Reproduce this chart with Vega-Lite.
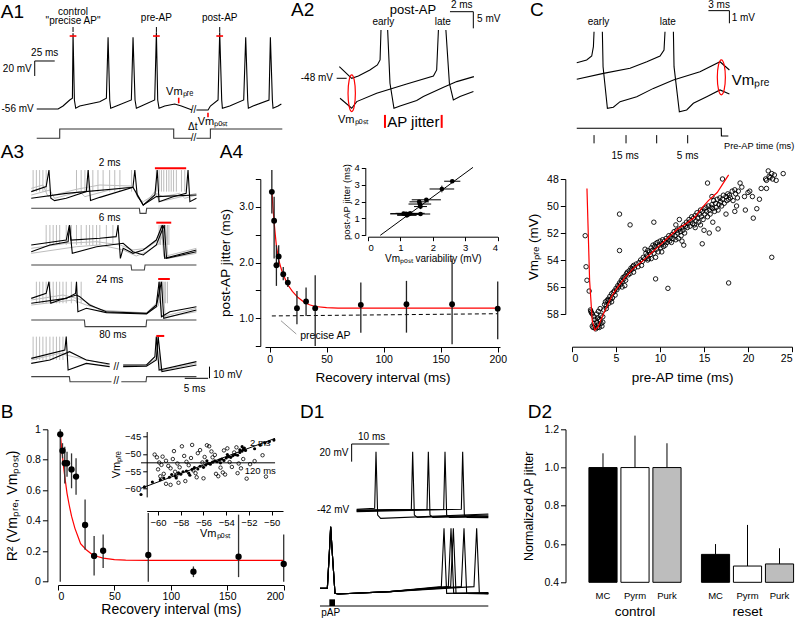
{
"$schema":"https://vega.github.io/schema/vega-lite/v6.json",
"background":"white",
"padding":0,
"config":{"view":{"stroke":null},"font":"Liberation Sans","axis":{"grid":false,"labelOverlap":false,"domainColor":"black","tickColor":"black","labelColor":"black","titleColor":"black","labelFont":"Liberation Sans","titleFont":"Liberation Sans","titleFontWeight":"normal","tickSize":5,"labelFontSize":10.5,"titleFontSize":13.5},"text":{"font":"Liberation Sans","color":"black"}},
"spacing":179,
"bounds":"flush",
"vconcat":[
{"hconcat":[
{"width":231.7,"height":95.7,
"encoding":{"x":{"field":"t","type":"quantitative","scale":{"domain":[26.6,316.25],"nice":false,"zero":false},"axis":null},"y":{"field":"v","type":"quantitative","scale":{"domain":[-38.27,89.33],"nice":false,"zero":false},"axis":null}},
"layer":[
{"data":{"values":[{"s":"a","t":0,"v":-95.1},{"s":"a","t":28.74,"v":-95.1},{"s":"a","t":28.76,"v":-82.7},{"s":"a","t":171.24,"v":-82.7},{"s":"a","t":171.26,"v":-95.1},{"s":"a","t":193.5,"v":-95.1},{"s":"b","t":199.6,"v":-95.1},{"s":"b","t":217.09,"v":-95.1},{"s":"b","t":217.11,"v":-82.7},{"s":"b","t":307,"v":-82.7}]},"mark":{"type":"line","color":"#333","strokeWidth":1.1},"encoding":{"detail":{"field":"s"}}},
{"data":{"values":[{"s":"a","t":0,"v":-56},{"s":"a","t":26.7,"v":-56},{"s":"a","t":32.9,"v":-52},{"s":"a","t":41.25,"v":-44},{"s":"a","t":44.6,"v":-41.7},{"s":"a","t":45.4,"v":45},{"s":"a","t":47.1,"v":-44},{"s":"a","t":48.75,"v":-55},{"s":"a","t":53.75,"v":-52},{"s":"a","t":78.75,"v":-46.3},{"s":"a","t":87.1,"v":-41.7},{"s":"a","t":89.2,"v":39.6},{"s":"a","t":91.25,"v":-44},{"s":"a","t":92.5,"v":-55},{"s":"a","t":99.6,"v":-52},{"s":"a","t":118.3,"v":-44},{"s":"a","t":120.4,"v":39.6},{"s":"a","t":122.9,"v":-44},{"s":"a","t":124.6,"v":-55},{"s":"a","t":130.8,"v":-52},{"s":"a","t":147.5,"v":-44},{"s":"a","t":149.6,"v":46.3},{"s":"a","t":151.25,"v":-44},{"s":"a","t":152.9,"v":-55},{"s":"a","t":160,"v":-52},{"s":"a","t":172.5,"v":-49.3},{"s":"a","t":180.8,"v":-52},{"s":"a","t":194.2,"v":-57.3},
{"s":"b","t":199.6,"v":-57.3},{"s":"b","t":214.2,"v":-57.3},{"s":"b","t":217.1,"v":-52},{"s":"b","t":226.7,"v":-44},{"s":"b","t":228.75,"v":46.3},{"s":"b","t":231.25,"v":-44},{"s":"b","t":232.1,"v":-55},{"s":"b","t":241.25,"v":-52},{"s":"b","t":258.75,"v":-44},{"s":"b","t":261.25,"v":39.6},{"s":"b","t":263.75,"v":-44},{"s":"b","t":264.6,"v":-55},{"s":"b","t":270.4,"v":-52},{"s":"b","t":290.4,"v":-44},{"s":"b","t":292.1,"v":39.6},{"s":"b","t":294.6,"v":-44},{"s":"b","t":295.4,"v":-55},{"s":"b","t":301.7,"v":-52},{"s":"b","t":305.8,"v":-49.3}]},"mark":{"type":"line","color":"black","strokeWidth":1.1},"encoding":{"detail":{"field":"s"}}},
{"data":{"values":[{"t":45.4,"v":53.3,"t2":45.4,"v2":46.7},{"t":149.6,"v":53.3,"t2":149.6,"v2":46.7},{"t":228.75,"v":53.3,"t2":228.75,"v2":46.7},{"t":-2.5,"v":8,"t2":22.5,"v2":8},{"t":-2.5,"v":8,"t2":-2.5,"v2":-12}]},"mark":{"type":"rule","color":"black","strokeWidth":1},"encoding":{"x2":{"field":"t2"},"y2":{"field":"v2"}}},
{"data":{"values":[{"t":41.2,"v":41.3,"t2":49.6,"v2":41.3},{"t":145.4,"v":41.3,"t2":153.8,"v2":41.3},{"t":224.55,"v":41.3,"t2":232.95,"v2":41.3},{"t":177.5,"v":-40.9,"t2":177.5,"v2":-48.4},{"t":214.1,"v":-60.9,"t2":214.1,"v2":-67.1}]},"mark":{"type":"rule","color":"red","strokeWidth":1.6},"encoding":{"x2":{"field":"t2"},"y2":{"field":"v2"}}},
{"data":{"values":[{"t":45.4,"v":73.8,"label":"control"},{"t":45.4,"v":60.8,"label":"\"precise AP\""},{"t":149.6,"v":64.9,"label":"pre-AP"},{"t":228.75,"v":64.9,"label":"post-AP"},{"t":10,"v":18.3,"label":"25 ms"},{"t":195,"v":-79.5,"label":"Δt"},{"t":196,"v":-57.3,"label":"//"},{"t":196,"v":-95.1,"label":"//"}]},"mark":{"type":"text","fontSize":10,"align":"center","baseline":"middle"},"encoding":{"text":{"field":"label"}}},
{"data":{"values":[{"t":178.75,"v":-33,"label":"Vmₚᵣₑ"},{"t":220.4,"v":-73,"label":"Vmₚₒₛₜ"}]},"mark":{"type":"text","fontSize":11,"align":"center","baseline":"middle"},"encoding":{"text":{"field":"label"}}},
{"data":{"values":[{"t":-3.75,"v":-56,"label":"-56 mV"},{"t":-6.25,"v":-2.7,"label":"20 mV"}]},"mark":{"type":"text","fontSize":10,"align":"right","baseline":"middle"},"encoding":{"text":{"field":"label"}}},
{"data":{"values":[{"t":-45,"v":73.3,"label":"A1"}]},"mark":{"type":"text","fontSize":19,"align":"left","baseline":"middle"},"encoding":{"text":{"field":"label"}}}
]},
{"width":220,"height":95.7,
"encoding":{"x":{"field":"t","type":"quantitative","scale":{"domain":[0,18.85],"nice":false,"zero":false},"axis":null},"y":{"field":"v","type":"quantitative","scale":{"domain":[-53.23,-24.49],"nice":false,"zero":false},"axis":null}},
"layer":[
{"data":{"values":[{"s":"e1","t":3.37,"v":-44.5},{"s":"e1","t":4.43,"v":-48},{"s":"e1","t":5.0,"v":-47.3},{"s":"e1","t":5.99,"v":-45.5},{"s":"e1","t":6.63,"v":-44},{"s":"e1","t":6.86,"v":-42.5},{"s":"e1","t":6.94,"v":-33.5},
{"s":"e2","t":7.51,"v":-33.5},{"s":"e2","t":7.71,"v":-49.5},{"s":"e2","t":8.05,"v":-57},{"s":"e2","t":8.57,"v":-56.3},{"s":"e2","t":10.0,"v":-54.7},{"s":"e2","t":10.57,"v":-53.5},{"s":"e2","t":12.3,"v":-50.7},{"s":"e2","t":13.43,"v":-49},{"s":"e2","t":14.9,"v":-47.5},
{"s":"l1","t":3.43,"v":-54},{"s":"l1","t":4.43,"v":-57},{"s":"l1","t":4.86,"v":-55},{"s":"l1","t":6.57,"v":-52.5},{"s":"l1","t":9.14,"v":-49.7},{"s":"l1","t":11.43,"v":-47.3},{"s":"l1","t":11.71,"v":-45.5},{"s":"l1","t":11.86,"v":-33.5},
{"s":"l2","t":12.5,"v":-33.5},{"s":"l2","t":12.8,"v":-49.5},{"s":"l2","t":13.14,"v":-54.5},{"s":"l2","t":13.71,"v":-53.5},{"s":"l2","t":14.86,"v":-52}]},"mark":{"type":"line","color":"black","strokeWidth":1.1},"encoding":{"detail":{"field":"s"}}},
{"data":{"values":[{"t":3.14,"v":-48,"t2":4.0,"v2":-48},{"t":12.85,"v":-28,"t2":14.85,"v2":-28},{"t":14.85,"v":-28,"t2":14.85,"v2":-33}]},"mark":{"type":"rule","color":"black"},"encoding":{"x2":{"field":"t2"},"y2":{"field":"v2"}}},
{"data":{"values":[{"t":7.28,"v":-59,"t2":7.28,"v2":-62.9},{"t":12.14,"v":-59,"t2":12.14,"v2":-62.9}]},"mark":{"type":"rule","color":"red","strokeWidth":2},"encoding":{"x2":{"field":"t2"},"y2":{"field":"v2"}}},
{"data":{"values":[{"t":4.43,"v":-52.5}]},"mark":{"type":"point","shape":"M0,-1A0.2,1 0 1,1 0,1A0.2,1 0 1,1 0,-1Z","size":1344,"filled":false,"stroke":"red","strokeWidth":1.2,"opacity":1}},
{"data":{"values":[{"t":7.14,"v":-31,"label":"early"},{"t":12.23,"v":-31,"label":"late"},{"t":13.86,"v":-26.0,"label":"2 ms"}]},"mark":{"type":"text","fontSize":10,"align":"center","baseline":"middle"},"encoding":{"text":{"field":"label"}}},
{"data":{"values":[{"t":9.68,"v":-27.5,"label":"post-AP"}]},"mark":{"type":"text","fontSize":13,"align":"center","baseline":"middle"},"encoding":{"text":{"field":"label"}}},
{"data":{"values":[{"t":9.71,"v":-61.1,"label":"AP jitter"}]},"mark":{"type":"text","fontSize":15,"align":"center","baseline":"middle"},"encoding":{"text":{"field":"label"}}},
{"data":{"values":[{"t":4.57,"v":-60.5,"label":"Vmₚₒₛₜ"}]},"mark":{"type":"text","fontSize":11,"align":"center","baseline":"middle"},"encoding":{"text":{"field":"label"}}},
{"data":{"values":[{"t":2.83,"v":-48,"label":"-48 mV"}]},"mark":{"type":"text","fontSize":10,"align":"right","baseline":"middle"},"encoding":{"text":{"field":"label"}}},
{"data":{"values":[{"t":15.17,"v":-30.2,"label":"5 mV"}]},"mark":{"type":"text","fontSize":10,"align":"left","baseline":"middle"},"encoding":{"text":{"field":"label"}}},
{"data":{"values":[{"t":-0.77,"v":-27.5,"label":"A2"}]},"mark":{"type":"text","fontSize":19,"align":"left","baseline":"middle"},"encoding":{"text":{"field":"label"}}}
]},
{"width":260,"height":95.7,
"encoding":{"x":{"field":"t","type":"quantitative","scale":{"domain":[-27.39,9.76],"nice":false,"zero":false},"axis":null},"y":{"field":"v","type":"quantitative","scale":{"domain":[-1.23,5.96],"nice":false,"zero":false},"axis":null}},
"layer":[
{"data":{"values":[{"s":"e1","t":-20.71,"v":1.25},{"s":"e1","t":-19.29,"v":1.45},{"s":"e1","t":-18.57,"v":1.75},{"s":"e1","t":-18.33,"v":2.45},{"s":"e1","t":-18.24,"v":3.58},
{"s":"e2","t":-17.05,"v":3.58},{"s":"e2","t":-16.95,"v":0.95},{"s":"e2","t":-16.33,"v":-2.18},{"s":"e2","t":-15.48,"v":-2.1},{"s":"e2","t":-14.52,"v":-1.68},{"s":"e2","t":-12.14,"v":-1.31},{"s":"e2","t":-9.76,"v":-0.68},{"s":"e2","t":-6.9,"v":-0.05},{"s":"e2","t":-3.1,"v":0.57},{"s":"e2","t":-0.24,"v":1.32},{"s":"e2","t":1.1,"v":0.7},
{"s":"l1","t":-20.71,"v":0.0},{"s":"l1","t":-16.9,"v":0.45},{"s":"l1","t":-13.1,"v":0.83},{"s":"l1","t":-10.7,"v":1.32},{"s":"l1","t":-8.81,"v":1.75},{"s":"l1","t":-8.24,"v":2.2},{"s":"l1","t":-8.1,"v":3.58},
{"s":"l2","t":-6.9,"v":3.58},{"s":"l2","t":-6.81,"v":0.95},{"s":"l2","t":-6.05,"v":-2.44},{"s":"l2","t":-5.0,"v":-2.3},{"s":"l2","t":-4.05,"v":-1.8},{"s":"l2","t":-2.14,"v":-1.31},{"s":"l2","t":-0.24,"v":-0.8},{"s":"l2","t":1.1,"v":-1.1},
{"s":"ax","t":-20.71,"v":-3.68},{"s":"ax","t":-0.06,"v":-3.68},{"s":"ax","t":-0.04,"v":-4.26},{"s":"ax","t":0.95,"v":-4.26}]},"mark":{"type":"line","color":"black","strokeWidth":1.1},"encoding":{"detail":{"field":"s"}}},
{"data":{"values":[{"t":-18.24,"v":-4.19,"t2":-18.24,"v2":-4.81},{"t":-13.67,"v":-4.19,"t2":-13.67,"v2":-4.81},{"t":-9.29,"v":-4.19,"t2":-9.29,"v2":-4.81},{"t":-4.86,"v":-4.19,"t2":-4.86,"v2":-4.81},{"t":-1.9,"v":5.16,"t2":1.1,"v2":5.16},{"t":1.1,"v":5.16,"t2":1.1,"v2":4.21}]},"mark":{"type":"rule","color":"black"},"encoding":{"x2":{"field":"t2"},"y2":{"field":"v2"}}},
{"data":{"values":[{"t":-0.05,"v":0.15}]},"mark":{"type":"point","shape":"M0,-1A0.23,1 0 1,1 0,1A0.23,1 0 1,1 0,-1Z","size":1225,"filled":false,"stroke":"red","strokeWidth":1.2,"opacity":1}},
{"data":{"values":[{"t":-17.6,"v":4.33,"label":"early"},{"t":-7.7,"v":4.33,"label":"late"},{"t":-0.38,"v":5.57,"label":"3 ms"},{"t":-13.8,"v":-5.77,"label":"15 ms"},{"t":-4.86,"v":-5.77,"label":"5 ms"}]},"mark":{"type":"text","fontSize":10,"align":"center","baseline":"middle"},"encoding":{"text":{"field":"label"}}},
{"data":{"values":[{"t":1.43,"v":4.59,"label":"1 mV"}]},"mark":{"type":"text","fontSize":10,"align":"left","baseline":"middle"},"encoding":{"text":{"field":"label"}}},
{"data":{"values":[{"t":0.33,"v":-4.99,"label":"Pre-AP time (ms)"}]},"mark":{"type":"text","fontSize":9.2,"align":"left","baseline":"middle"},"encoding":{"text":{"field":"label"}}},
{"data":{"values":[{"t":1.43,"v":-0.05,"label":"Vmₚᵣₑ"}]},"mark":{"type":"text","fontSize":15,"align":"left","baseline":"middle"},"encoding":{"text":{"field":"label"}}},
{"data":{"values":[{"t":-27.4,"v":5.2,"label":"C"}]},"mark":{"type":"text","fontSize":19,"align":"left","baseline":"middle"},"encoding":{"text":{"field":"label"}}}
]}
],"spacing":10,"bounds":"flush"},
{"vconcat":[
{"hconcat":[
{"width":134.4,"height":167,
"encoding":{"x":{"field":"t","type":"quantitative","scale":{"domain":[5.636,34.436],"nice":false,"zero":false},"axis":null},"y":{"field":"v","type":"quantitative","scale":{"domain":[-113.71,29.43],"nice":false,"zero":false},"axis":null}},
"layer":[
{"data":{"values":[
{"t":0.3,"v":37.1,"v2":18.6},{"t":1.0,"v":37.1,"v2":18.6},{"t":1.7,"v":37.1,"v2":18.6},{"t":2.4,"v":37.1,"v2":18.6},{"t":3.1,"v":37.1,"v2":18.6},{"t":9.6,"v":37.1,"v2":18.6},{"t":10.6,"v":37.1,"v2":18.6},{"t":11.4,"v":37.1,"v2":18.6},{"t":12.1,"v":37.1,"v2":18.6},{"t":13.1,"v":37.1,"v2":18.6},{"t":14.2,"v":37.1,"v2":18.6},{"t":15.3,"v":37.1,"v2":18.6},{"t":16.7,"v":37.1,"v2":18.6},{"t":17.8,"v":37.1,"v2":18.6},{"t":18.9,"v":37.1,"v2":18.6},{"t":21.4,"v":37.1,"v2":18.6},{"t":26.7,"v":37.1,"v2":18.6},{"t":27.3,"v":37.1,"v2":18.6},{"t":27.8,"v":37.1,"v2":18.6},{"t":28.3,"v":37.1,"v2":18.6},{"t":28.9,"v":37.1,"v2":18.6},{"t":29.4,"v":37.1,"v2":18.6},{"t":29.9,"v":37.1,"v2":18.6},{"t":30.4,"v":37.1,"v2":18.6},{"t":31.0,"v":37.1,"v2":18.6},{"t":32.1,"v":37.1,"v2":18.6},{"t":32.8,"v":37.1,"v2":18.6},
{"t":3.1,"v":-10,"v2":-27.1},{"t":3.9,"v":-10,"v2":-27.1},{"t":4.6,"v":-10,"v2":-27.1},{"t":5.3,"v":-10,"v2":-27.1},{"t":6.0,"v":-10,"v2":-27.1},{"t":7.4,"v":-10,"v2":-27.1},{"t":8.5,"v":-10,"v2":-27.1},{"t":9.6,"v":-10,"v2":-27.1},{"t":10.6,"v":-10,"v2":-27.1},{"t":11.7,"v":-10,"v2":-27.1},{"t":12.4,"v":-10,"v2":-27.1},{"t":13.1,"v":-10,"v2":-27.1},{"t":13.9,"v":-10,"v2":-27.1},{"t":14.6,"v":-10,"v2":-27.1},{"t":16.0,"v":-10,"v2":-27.1},{"t":17.4,"v":-10,"v2":-27.1},{"t":27.3,"v":-10,"v2":-27.1},{"t":27.6,"v":-10,"v2":-27.1},{"t":28.0,"v":-10,"v2":-27.1},{"t":28.4,"v":-10,"v2":-27.1},{"t":28.7,"v":-10,"v2":-27.1},{"t":29.1,"v":-10,"v2":-27.1},{"t":29.4,"v":-10,"v2":-27.1},
{"t":1.0,"v":-58.6,"v2":-77.1},{"t":1.7,"v":-58.6,"v2":-77.1},{"t":2.4,"v":-58.6,"v2":-77.1},{"t":3.1,"v":-58.6,"v2":-77.1},{"t":3.9,"v":-58.6,"v2":-77.1},{"t":4.6,"v":-58.6,"v2":-77.1},{"t":5.3,"v":-58.6,"v2":-77.1},{"t":6.0,"v":-58.6,"v2":-77.1},{"t":6.7,"v":-58.6,"v2":-77.1},{"t":7.4,"v":-58.6,"v2":-77.1},{"t":8.5,"v":-58.6,"v2":-77.1},{"t":9.6,"v":-58.6,"v2":-77.1},{"t":10.6,"v":-58.6,"v2":-77.1},{"t":27.3,"v":-58.6,"v2":-77.1},{"t":27.6,"v":-58.6,"v2":-77.1},{"t":28.0,"v":-58.6,"v2":-77.1},{"t":28.4,"v":-58.6,"v2":-77.1},{"t":28.7,"v":-58.6,"v2":-77.1},{"t":29.1,"v":-58.6,"v2":-77.1},
{"t":0.3,"v":-105.7,"v2":-125.7},{"t":1.0,"v":-105.7,"v2":-125.7},{"t":1.7,"v":-105.7,"v2":-125.7},{"t":2.4,"v":-105.7,"v2":-125.7},{"t":3.1,"v":-105.7,"v2":-125.7},{"t":3.9,"v":-105.7,"v2":-125.7},{"t":4.6,"v":-105.7,"v2":-125.7},{"t":5.3,"v":-105.7,"v2":-125.7},{"t":6.0,"v":-105.7,"v2":-125.7},{"t":6.7,"v":-105.7,"v2":-125.7}]},"mark":{"type":"rule","color":"#bdbdbd","strokeWidth":1},"encoding":{"y2":{"field":"v2"}}},
{"data":{"values":[
{"s":"1a","t":-0.1,"v":15.7},{"s":"1a","t":3.9,"v":20},{"s":"1a","t":4.9,"v":12.9},{"s":"1a","t":10.3,"v":18.6},{"s":"1a","t":11.4,"v":14.3},{"s":"1a","t":16.7,"v":20},{"s":"1a","t":21.7,"v":22.9},{"s":"1a","t":22.8,"v":12.9},{"s":"1a","t":23.9,"v":10},{"s":"1a","t":26.7,"v":17.1},{"s":"1a","t":28.1,"v":14.3},{"s":"1a","t":31.7,"v":17.1},{"s":"1a","t":32.8,"v":12.9},{"s":"1a","t":35.3,"v":15.7},
{"s":"1b","t":-0.1,"v":21.4},{"s":"1b","t":2.4,"v":24.3},{"s":"1b","t":3.5,"v":14.3},{"s":"1b","t":9.6,"v":20.6},{"s":"1b","t":14.6,"v":24.3},{"s":"1b","t":21.4,"v":23.4},{"s":"1b","t":22.8,"v":15.7},{"s":"1b","t":23.9,"v":7.1},{"s":"1b","t":26.4,"v":18.6},{"s":"1b","t":27.4,"v":10},{"s":"1b","t":35.3,"v":17.1},
{"s":"2a","t":-0.1,"v":-30},{"s":"2a","t":7.4,"v":-25.7},{"s":"2a","t":13.9,"v":-24.3},{"s":"2a","t":18.9,"v":-27.1},{"s":"2a","t":21.7,"v":-31.4},{"s":"2a","t":24.6,"v":-30},{"s":"2a","t":27.1,"v":-22.9},{"s":"2a","t":27.8,"v":-10},{"s":"2a","t":28.3,"v":-37.1},{"s":"2a","t":35.3,"v":-30},
{"s":"2b","t":-0.1,"v":-34.3},{"s":"2b","t":9.6,"v":-28.6},{"s":"2b","t":14.6,"v":-27.1},{"s":"2b","t":19.6,"v":-31.4},{"s":"2b","t":22.4,"v":-36.6},{"s":"2b","t":24.6,"v":-32.9},{"s":"2b","t":27.4,"v":-25.7},{"s":"2b","t":28.7,"v":-10},{"s":"2b","t":29.2,"v":-38.6},{"s":"2b","t":35.3,"v":-34.3},
{"s":"3a","t":-0.1,"v":-74.3},{"s":"3a","t":6.7,"v":-70},{"s":"3a","t":11.0,"v":-74.3},{"s":"3a","t":14.6,"v":-82.9},{"s":"3a","t":24.6,"v":-85.4},{"s":"3a","t":26.7,"v":-77.1},{"s":"3a","t":27.4,"v":-58.6},{"s":"3a","t":27.9,"v":-88.6},{"s":"3a","t":35.3,"v":-81.4},
{"s":"3b","t":-0.1,"v":-78.6},{"s":"3b","t":8.9,"v":-74.3},{"s":"3b","t":11.7,"v":-78.6},{"s":"3b","t":16.7,"v":-84.6},{"s":"3b","t":24.6,"v":-86},{"s":"3b","t":27.1,"v":-79.4},{"s":"3b","t":28.1,"v":-58.6},{"s":"3b","t":28.6,"v":-89.1},{"s":"3b","t":35.3,"v":-84.3},
{"s":"4a","t":-0.1,"v":-125.7},{"s":"4a","t":6.0,"v":-120},{"s":"4a","t":8.9,"v":-122.9},{"s":"4a","t":16.7,"v":-130},
{"s":"4b","t":19.6,"v":-130.6},{"s":"4b","t":24.6,"v":-130.3},{"s":"4b","t":26.7,"v":-124.3},{"s":"4b","t":27.1,"v":-105.7},{"s":"4b","t":27.6,"v":-134.9},{"s":"4b","t":35.3,"v":-128.6}]},"mark":{"type":"line","color":"#bdbdbd","strokeWidth":1},"encoding":{"detail":{"field":"s"}}},
{"data":{"values":[
{"s":"1a","t":-0.1,"v":4.3},{"s":"1a","t":23.07,"v":4.3},{"s":"1a","t":23.21,"v":0},{"s":"1a","t":24.5,"v":0},{"s":"1a","t":24.64,"v":4.3},{"s":"1a","t":35.3,"v":4.3},
{"s":"2a","t":-0.1,"v":-44.3},{"s":"2a","t":21.29,"v":-44.3},{"s":"2a","t":21.43,"v":-48.6},{"s":"2a","t":24.14,"v":-48.6},{"s":"2a","t":24.29,"v":-44.3},{"s":"2a","t":35.3,"v":-44.3},
{"s":"3a","t":-0.1,"v":-91.4},{"s":"3a","t":11.29,"v":-91.4},{"s":"3a","t":11.43,"v":-97.1},{"s":"3a","t":24.5,"v":-97.1},{"s":"3a","t":24.64,"v":-91.4},{"s":"3a","t":35.3,"v":-91.4},
{"s":"4a","t":-0.1,"v":-140},{"s":"4a","t":8.07,"v":-140},{"s":"4a","t":8.21,"v":-144.3},{"s":"4a","t":17.1,"v":-144.3},
{"s":"4b","t":19.2,"v":-144.3},{"s":"4b","t":24.5,"v":-144.3},{"s":"4b","t":24.64,"v":-140},{"s":"4b","t":35.3,"v":-140}]},"mark":{"type":"line","color":"#444","strokeWidth":1.1},"encoding":{"detail":{"field":"s"}}},
{"data":{"values":[
{"s":"1a","t":-0.1,"v":18.6},{"s":"1a","t":3.1,"v":22.9},{"s":"1a","t":3.7,"v":37.1},{"s":"1a","t":4.1,"v":12.9},{"s":"1a","t":4.9,"v":10.9},{"s":"1a","t":7.4,"v":12.9},{"s":"1a","t":11.7,"v":18.6},{"s":"1a","t":12.1,"v":37.1},{"s":"1a","t":12.6,"v":10.9},{"s":"1a","t":14.6,"v":13.7},{"s":"1a","t":21.7,"v":22.3},{"s":"1a","t":22.1,"v":37.1},{"s":"1a","t":22.6,"v":15.7},{"s":"1a","t":23.9,"v":7.1},{"s":"1a","t":26.4,"v":15.7},{"s":"1a","t":26.9,"v":37.1},{"s":"1a","t":27.3,"v":10},{"s":"1a","t":30.3,"v":14.3},{"s":"1a","t":33.1,"v":17.1},{"s":"1a","t":33.5,"v":37.1},{"s":"1a","t":33.9,"v":10},{"s":"1a","t":35.3,"v":12.9},
{"s":"1b","t":-0.1,"v":12.9},{"s":"1b","t":7.4,"v":17.1},{"s":"1b","t":21.7,"v":22.3},{"s":"1b","t":23.9,"v":7.1},{"s":"1b","t":26.7,"v":14.3},{"s":"1b","t":35.3,"v":15.7},
{"s":"2a","t":-0.1,"v":-27.1},{"s":"2a","t":7.4,"v":-22.9},{"s":"2a","t":8.1,"v":-10},{"s":"2a","t":8.4,"v":-22.9},{"s":"2a","t":14.6,"v":-21.4},{"s":"2a","t":18.1,"v":-20},{"s":"2a","t":18.5,"v":-10},{"s":"2a","t":19.0,"v":-38.6},{"s":"2a","t":19.6,"v":-30},{"s":"2a","t":21.7,"v":-34.3},{"s":"2a","t":23.9,"v":-31.4},{"s":"2a","t":26.7,"v":-22.9},{"s":"2a","t":28.0,"v":-10},{"s":"2a","t":28.5,"v":-38.6},{"s":"2a","t":35.3,"v":-31.4},
{"s":"2b","t":-0.1,"v":-32.9},{"s":"2b","t":3.9,"v":-27.1},{"s":"2b","t":7.8,"v":-24.3},{"s":"2b","t":8.1,"v":-10},{"s":"2b","t":8.7,"v":-34.3},{"s":"2b","t":13.9,"v":-28.6},{"s":"2b","t":19.6,"v":-25.7},{"s":"2b","t":21.7,"v":-32.9},{"s":"2b","t":23.9,"v":-35.7},{"s":"2b","t":26.7,"v":-27.1},{"s":"2b","t":28.4,"v":-10},{"s":"2b","t":28.9,"v":-38.6},{"s":"2b","t":35.3,"v":-32.9},
{"s":"3a","t":-0.1,"v":-72.9},{"s":"3a","t":3.1,"v":-68.6},{"s":"3a","t":3.7,"v":-58.6},{"s":"3a","t":4.1,"v":-77.1},{"s":"3a","t":6.0,"v":-74.3},{"s":"3a","t":9.6,"v":-70},{"s":"3a","t":10.3,"v":-71.4},{"s":"3a","t":12.4,"v":-78.6},{"s":"3a","t":16.0,"v":-84.3},{"s":"3a","t":24.6,"v":-85.7},{"s":"3a","t":26.7,"v":-78.6},{"s":"3a","t":27.3,"v":-58.6},{"s":"3a","t":27.8,"v":-88.6},{"s":"3a","t":29.6,"v":-84.3},{"s":"3a","t":35.3,"v":-80},
{"s":"3b","t":-0.1,"v":-77.1},{"s":"3b","t":7.4,"v":-72.9},{"s":"3b","t":9.4,"v":-68.6},{"s":"3b","t":9.6,"v":-58.6},{"s":"3b","t":9.9,"v":-84.3},{"s":"3b","t":11.7,"v":-81.4},{"s":"3b","t":16.0,"v":-85.1},{"s":"3b","t":24.6,"v":-86.3},{"s":"3b","t":26.7,"v":-80},{"s":"3b","t":27.8,"v":-58.6},{"s":"3b","t":28.3,"v":-90},{"s":"3b","t":35.3,"v":-82.9},
{"s":"4a","t":-0.1,"v":-124.3},{"s":"4a","t":7.1,"v":-117.1},{"s":"4a","t":7.4,"v":-105.7},{"s":"4a","t":7.8,"v":-134.3},{"s":"4a","t":11.7,"v":-128.6},{"s":"4a","t":16.7,"v":-131.4},
{"s":"4b","t":19.6,"v":-130},{"s":"4b","t":24.6,"v":-130},{"s":"4b","t":26.4,"v":-122.9},{"s":"4b","t":26.7,"v":-105.7},{"s":"4b","t":27.3,"v":-134.3},{"s":"4b","t":35.3,"v":-127.1},
{"s":"4c","t":-0.1,"v":-128.6},{"s":"4c","t":3.9,"v":-125.7},{"s":"4c","t":8.1,"v":-118.6},{"s":"4c","t":11.7,"v":-125.7},{"s":"4c","t":16.7,"v":-129.1},
{"s":"4d","t":19.6,"v":-131.4},{"s":"4d","t":24.6,"v":-131.1},{"s":"4d","t":26.7,"v":-125.7},{"s":"4d","t":27.1,"v":-105.7},{"s":"4d","t":27.9,"v":-135.7},{"s":"4d","t":35.3,"v":-130}]},"mark":{"type":"line","color":"black","strokeWidth":1.1},"encoding":{"detail":{"field":"s"}}},
{"data":{"values":[{"t":26.4,"v":38.6,"t2":33.1,"v2":38.6},{"t":26.7,"v":-8,"t2":29.9,"v2":-8},{"t":27.1,"v":-56.3,"t2":29.6,"v2":-56.3},{"t":26.7,"v":-105.1,"t2":28.4,"v2":-105.1}]},"mark":{"type":"rule","color":"red","strokeWidth":2},"encoding":{"x2":{"field":"t2"},"y2":{"field":"v2"}}},
{"data":{"values":[{"t":32.8,"v":-141.4,"t2":37.8,"v2":-141.4},{"t":38.1,"v":-131.4,"t2":38.1,"v2":-141.4}]},"mark":{"type":"rule","color":"black"},"encoding":{"x2":{"field":"t2"},"y2":{"field":"v2"}}},
{"data":{"values":[{"t":16.7,"v":43.4,"label":"2 ms"},{"t":16.7,"v":-4.3,"label":"6 ms"},{"t":16.7,"v":-57.1,"label":"24 ms"},{"t":17.4,"v":-104.3,"label":"80 ms"},{"t":34.9,"v":-150.9,"label":"5 ms"},{"t":18.1,"v":-132,"label":"//"},{"t":18.1,"v":-143.4,"label":"//"}]},"mark":{"type":"text","fontSize":10,"align":"center","baseline":"middle"},"encoding":{"text":{"field":"label"}}},
{"data":{"values":[{"t":38.9,"v":-138.6,"label":"10 mV"}]},"mark":{"type":"text","fontSize":10,"align":"left","baseline":"middle"},"encoding":{"text":{"field":"label"}}},
{"data":{"values":[{"t":-6.64,"v":52.9,"label":"A3"},{"t":40.3,"v":52.9,"label":"A4"},{"t":-6.64,"v":-170,"label":"B"}]},"mark":{"type":"text","fontSize":19,"align":"left","baseline":"middle"},"encoding":{"text":{"field":"label"}}}
]},
{"width":235,"height":167,
"resolve":{"scale":{"x":"independent","y":"independent"},"axis":{"x":"independent","y":"independent"}},
"layer":[
{"layer":[
{"data":{"values":[{"x":2,"y":3.3},{"x":3,"y":2.98},{"x":4,"y":2.72},{"x":5,"y":2.5},{"x":6,"y":2.3},{"x":8,"y":2.05},{"x":10,"y":1.9},{"x":12,"y":1.78},{"x":16,"y":1.6},{"x":20,"y":1.48},{"x":25,"y":1.37},{"x":30,"y":1.29},{"x":35,"y":1.24},{"x":40,"y":1.21},{"x":50,"y":1.19},{"x":60,"y":1.18},{"x":80,"y":1.18},{"x":120,"y":1.18},{"x":160,"y":1.18},{"x":200,"y":1.18}]},"mark":{"type":"line","color":"red","strokeWidth":1.2},
"encoding":{"x":{"field":"x","type":"quantitative","scale":{"domain":[-4,202],"nice":false,"zero":false},"axis":{"values":[0,50,100,150,200],"tickCount":20,"format":"d","offset":1,"title":"Recovery interval (ms)","titlePadding":6}},"y":{"field":"y","type":"quantitative","scale":{"domain":[0.5,3.5],"nice":false,"zero":false},"axis":{"values":[0.5,1,1.5,2,2.5,3,3.5],"tickCount":20,"labelExpr":"datum.value == 1 ? '1.0' : datum.value == 2 ? '2.0' : datum.value == 3 ? '3.0' : ''","offset":4.7,"title":"post-AP jitter (ms)","titlePadding":6}}}},
{"data":{"values":[{"x":2,"y":1.04},{"x":200,"y":1.08}]},"mark":{"type":"line","color":"black","strokeDash":[4,3],"strokeWidth":1},"encoding":{"x":{"field":"x","type":"quantitative"},"y":{"field":"y","type":"quantitative"}}},
{"data":{"values":[{"x":2,"y":3.27,"lo":2.88,"hi":3.66},{"x":4,"y":2.75,"lo":2.07,"hi":3.18},{"x":6,"y":1.95,"lo":1.58,"hi":2.31},{"x":8,"y":2.11,"lo":1.92,"hi":2.31},{"x":12,"y":1.79,"lo":1.68,"hi":1.92},{"x":16,"y":1.64,"lo":1.56,"hi":1.74},{"x":24,"y":1.18,"lo":0.89,"hi":1.49},{"x":32,"y":1.3,"lo":1.04,"hi":1.55},{"x":40,"y":1.18,"lo":0.5,"hi":1.77},{"x":80,"y":1.24,"lo":0.74,"hi":1.64},{"x":120,"y":1.25,"lo":0.74,"hi":1.67},{"x":160,"y":1.25,"lo":0.53,"hi":2.07},{"x":200,"y":1.17,"lo":0.62,"hi":1.66}]},"mark":{"type":"rule","color":"#222","strokeWidth":1.3},"encoding":{"x":{"field":"x","type":"quantitative"},"y":{"field":"lo","type":"quantitative"},"y2":{"field":"hi"}}},
{"data":{"values":[{"x":2,"y":3.27},{"x":4,"y":2.75},{"x":6,"y":1.95},{"x":8,"y":2.11},{"x":12,"y":1.79},{"x":16,"y":1.64},{"x":24,"y":1.18},{"x":32,"y":1.3},{"x":40,"y":1.18},{"x":80,"y":1.24},{"x":120,"y":1.25},{"x":160,"y":1.25},{"x":200,"y":1.17}]},"mark":{"type":"point","filled":true,"color":"black","size":34,"opacity":1},"encoding":{"x":{"field":"x","type":"quantitative"},"y":{"field":"y","type":"quantitative"}}},
{"data":{"values":[{"x":10,"y":0.954,"x2":23.4,"y2":0.716}]},"mark":{"type":"rule","color":"#999"},"encoding":{"x":{"field":"x","type":"quantitative"},"y":{"field":"y","type":"quantitative"},"x2":{"field":"x2"},"y2":{"field":"y2"}}},
{"data":{"values":[{"x":26.9,"y":0.68,"label":"precise AP"}]},"mark":{"type":"text","fontSize":10.5,"align":"left","baseline":"middle"},"encoding":{"x":{"field":"x","type":"quantitative"},"y":{"field":"y","type":"quantitative"},"text":{"field":"label"}}}
]},
{"layer":[
{"data":{"values":[{"x":0.38,"y":0},{"x":3.24,"y":4.02}]},"mark":{"type":"line","color":"black","strokeWidth":1},
"encoding":{"x":{"field":"x","type":"quantitative","title":"Vmₚₒₛₜ variability (mV)","scale":{"domain":[0,4],"range":[103,232.6],"nice":false,"zero":false},"axis":{"orient":"bottom","offset":-109.3,"values":[0,1,2,3,4],"tickCount":20,"format":"d","titleFontSize":10,"labelFontSize":9.5,"tickSize":4,"titlePadding":1}},"y":{"field":"y","type":"quantitative","title":"post-AP jitter (ms)","scale":{"domain":[0,4],"range":[56.3,-11.3],"nice":false,"zero":false},"axis":{"orient":"left","offset":-100.3,"values":[0,1,2,3,4],"tickCount":20,"format":"d","titleFontSize":9.5,"labelFontSize":9.5,"tickSize":4,"titlePadding":3}}}},
{"data":{"values":[{"x":2.6,"y":3.2,"xe":0.25,"ye":0.1},{"x":2.28,"y":2.74,"xe":0.38,"ye":0.2},{"x":1.8,"y":2.1,"xe":0.45,"ye":0.1},{"x":1.58,"y":1.98,"xe":0.3,"ye":0.1},{"x":1.6,"y":1.85,"xe":0.35,"ye":0.1},{"x":1.62,"y":1.7,"xe":0.2,"ye":0.15},{"x":1.62,"y":1.26,"xe":0.3,"ye":0.1},{"x":1.1,"y":1.28,"xe":0.4,"ye":0.05},{"x":1.18,"y":1.27,"xe":0.5,"ye":0.05},{"x":1.25,"y":1.24,"xe":0.35,"ye":0.1},{"x":1.3,"y":1.3,"xe":0.45,"ye":0.05},{"x":1.2,"y":1.18,"xe":0.3,"ye":0.1}]},
"layer":[
{"mark":{"type":"errorbar","color":"black","ticks":false},"encoding":{"x":{"field":"x","type":"quantitative","title":"Vmₚₒₛₜ variability (mV)"},"xError":{"field":"xe"},"y":{"field":"y","type":"quantitative","title":"post-AP jitter (ms)"}}},
{"mark":{"type":"errorbar","color":"black","ticks":false},"encoding":{"y":{"field":"y","type":"quantitative","title":"post-AP jitter (ms)"},"yError":{"field":"ye"},"x":{"field":"x","type":"quantitative","title":"Vmₚₒₛₜ variability (mV)"}}},
{"mark":{"type":"point","filled":true,"color":"black","size":22,"opacity":1},"encoding":{"x":{"field":"x","type":"quantitative","title":"Vmₚₒₛₜ variability (mV)"},"y":{"field":"y","type":"quantitative","title":"post-AP jitter (ms)"}}}
]}
]}
]},
{"width":220,"height":135,
"layer":[
{"data":{"values":[
{"x":1.5,"y":52.2},{"x":1.6,"y":54.5},{"x":1.7,"y":55.5},{"x":1.95,"y":56.3},{"x":2.1,"y":57.7},{"x":2.2,"y":57.9},{"x":2.15,"y":57.8},{"x":2.3,"y":58.0},
{"x":2.3,"y":58.9},{"x":2.4,"y":59.0},{"x":2.5,"y":58.7},{"x":2.6,"y":58.9},{"x":2.7,"y":59.1},{"x":2.8,"y":58.6},{"x":2.9,"y":58.3},{"x":3.0,"y":58.8},{"x":3.1,"y":59.0},{"x":3.2,"y":58.5},{"x":3.3,"y":58.1},{"x":3.4,"y":58.9},{"x":3.5,"y":58.6},{"x":2.5,"y":58.2},{"x":2.8,"y":58.0},{"x":3.0,"y":57.8},{"x":3.2,"y":57.6},{"x":3.6,"y":57.7},{"x":3.7,"y":57.3},{"x":3.5,"y":58.2},{"x":3.1,"y":58.4},{"x":2.6,"y":58.4},{"x":2.9,"y":59.0},{"x":3.3,"y":58.7},
{"x":3.8,"y":57.1},{"x":3.9,"y":57.4},{"x":4.0,"y":57.0},{"x":4.1,"y":56.9},{"x":4.2,"y":57.2},{"x":4.3,"y":56.7},{"x":4.4,"y":56.9},{"x":4.5,"y":56.5},{"x":4.6,"y":56.8},{"x":4.7,"y":56.4},{"x":4.8,"y":56.3},{"x":4.9,"y":56.6},{"x":5.0,"y":56.1},{"x":4.5,"y":57.1},{"x":4.2,"y":57.0},{"x":3.9,"y":57.6},
{"x":5.1,"y":56.2},{"x":5.2,"y":55.9},{"x":5.3,"y":56.0},{"x":5.4,"y":55.7},{"x":5.5,"y":55.8},{"x":5.6,"y":55.5},{"x":5.7,"y":55.6},{"x":5.8,"y":55.3},{"x":5.9,"y":55.4},{"x":6.0,"y":55.2},{"x":6.1,"y":55.5},{"x":6.2,"y":55.0},{"x":6.3,"y":54.9},{"x":6.4,"y":55.1},{"x":6.5,"y":54.8},{"x":6.6,"y":55.0},{"x":6.7,"y":54.6},{"x":6.8,"y":54.7},{"x":6.9,"y":54.5},{"x":7.0,"y":54.4},{"x":5.7,"y":56.0},{"x":6.0,"y":55.9},{"x":7.0,"y":54.9},
{"x":7.1,"y":54.6},{"x":7.3,"y":54.3},{"x":7.5,"y":54.5},{"x":7.6,"y":54.2},{"x":7.8,"y":54.0},{"x":8.0,"y":54.1},{"x":8.1,"y":53.8},{"x":8.3,"y":53.9},{"x":8.4,"y":53.5},{"x":8.5,"y":53.7},{"x":8.6,"y":53.3},{"x":8.7,"y":53.9},{"x":8.8,"y":53.4},{"x":8.9,"y":53.6},{"x":9.0,"y":53.1},{"x":7.9,"y":54.4},{"x":8.3,"y":53.2},{"x":8.6,"y":54.0},
{"x":9.1,"y":53.3},{"x":9.2,"y":52.9},{"x":9.3,"y":53.5},{"x":9.4,"y":53.0},{"x":9.5,"y":52.8},{"x":9.6,"y":53.2},{"x":9.7,"y":52.7},{"x":9.8,"y":53.4},{"x":9.9,"y":52.9},{"x":10.0,"y":52.6},{"x":10.1,"y":53.1},{"x":10.2,"y":52.8},{"x":10.3,"y":52.5},{"x":10.4,"y":53.0},{"x":10.5,"y":52.6},{"x":10.6,"y":52.9},{"x":10.7,"y":52.4},{"x":10.8,"y":52.7},{"x":10.9,"y":52.5},{"x":11.0,"y":52.2},{"x":9.5,"y":53.8},{"x":10.2,"y":53.4},{"x":9.0,"y":53.9},
{"x":11.1,"y":52.6},{"x":11.2,"y":52.3},{"x":11.3,"y":52.7},{"x":11.4,"y":52.1},{"x":11.5,"y":52.4},{"x":11.6,"y":51.9},{"x":11.7,"y":52.2},{"x":11.8,"y":52.5},{"x":11.9,"y":51.8},{"x":12.0,"y":52.0},{"x":12.1,"y":52.4},{"x":12.2,"y":51.7},{"x":12.3,"y":51.9},{"x":12.4,"y":52.2},{"x":12.5,"y":51.6},{"x":12.6,"y":51.8},{"x":12.7,"y":51.4},{"x":12.8,"y":52.0},{"x":12.9,"y":51.5},{"x":13.0,"y":51.2},{"x":12.2,"y":51.0},{"x":12.5,"y":52.6},{"x":11.8,"y":51.4},{"x":12.7,"y":52.9},
{"x":13.1,"y":51.6},{"x":13.2,"y":51.3},{"x":13.3,"y":51.0},{"x":13.4,"y":51.5},{"x":13.5,"y":51.1},{"x":13.6,"y":50.8},{"x":13.7,"y":51.3},{"x":13.8,"y":50.9},{"x":13.9,"y":51.4},{"x":14.0,"y":50.7},{"x":14.1,"y":51.1},{"x":14.2,"y":50.5},{"x":14.3,"y":50.9},{"x":14.4,"y":51.2},{"x":14.5,"y":50.6},{"x":14.6,"y":50.3},{"x":14.7,"y":50.8},{"x":14.8,"y":50.4},{"x":14.9,"y":51.0},{"x":15.0,"y":50.2},{"x":14.0,"y":51.6},{"x":14.6,"y":51.4},{"x":15.0,"y":51.8},{"x":14.8,"y":52.8},{"x":15.4,"y":48.3},
{"x":15.1,"y":50.6},{"x":15.2,"y":50.1},{"x":15.3,"y":50.4},{"x":15.4,"y":50.8},{"x":15.5,"y":50.0},{"x":15.6,"y":50.3},{"x":15.7,"y":50.6},{"x":15.8,"y":50.1},{"x":15.9,"y":49.9},{"x":16.0,"y":50.2},{"x":16.1,"y":49.6},{"x":16.2,"y":50.4},{"x":16.3,"y":49.8},{"x":16.4,"y":50.1},{"x":16.5,"y":49.5},{"x":16.6,"y":50.3},{"x":16.7,"y":49.9},{"x":16.8,"y":49.4},{"x":16.9,"y":49.7},{"x":17.0,"y":50.0},{"x":15.6,"y":52.0},{"x":16.6,"y":51.7},{"x":16.0,"y":51.2},{"x":15.9,"y":49.3},
{"x":17.1,"y":49.5},{"x":17.2,"y":49.2},{"x":17.3,"y":49.8},{"x":17.5,"y":49.3},{"x":17.6,"y":49.6},{"x":17.7,"y":49.1},{"x":17.8,"y":49.5},{"x":17.9,"y":49.2},{"x":18.0,"y":49.4},{"x":18.2,"y":48.9},{"x":18.3,"y":49.6},{"x":18.5,"y":48.8},{"x":18.6,"y":49.1},{"x":18.8,"y":49.4},{"x":18.9,"y":48.9},{"x":17.1,"y":48.0},{"x":18.5,"y":50.4},{"x":17.8,"y":55.7},{"x":17.5,"y":50.6},
{"x":19.3,"y":48.6},{"x":19.6,"y":49.3},{"x":19.7,"y":50.3},{"x":20.0,"y":49.0},{"x":20.2,"y":48.9},{"x":20.5,"y":49.3},{"x":20.6,"y":50.9},{"x":21.0,"y":50.2},{"x":21.3,"y":49.5},{"x":21.5,"y":48.7},{"x":22.0,"y":48.0},{"x":22.1,"y":48.1},{"x":22.3,"y":47.4},{"x":22.4,"y":47.8},{"x":22.5,"y":47.9},{"x":22.7,"y":47.6},{"x":22.8,"y":48.0},{"x":23.0,"y":47.7},{"x":23.2,"y":48.1},{"x":24.0,"y":47.6},{"x":22.1,"y":48.7},{"x":22.7,"y":53.8},{"x":19.1,"y":48.3},{"x":18.7,"y":50.0},
{"x":5.4,"y":50.6},{"x":5.4,"y":53.3},{"x":6.6,"y":51.4},{"x":9.3,"y":51.2},{"x":9.5,"y":55.4},{"x":10.9,"y":56.1}]},
"mark":{"type":"point","shape":"circle","size":20,"filled":false,"stroke":"black","strokeWidth":0.9,"opacity":1},
"encoding":{"x":{"field":"x","type":"quantitative","scale":{"domain":[0,25],"nice":false,"zero":false},"axis":{"values":[0,5,10,15,20,25],"tickCount":20,"format":"d","offset":32.7,"title":"pre-AP time (ms)","titlePadding":6}},"y":{"field":"y","type":"quantitative","scale":{"domain":[48,58],"reverse":true,"nice":false,"zero":false},"axis":{"values":[48,50,52,54,56,58],"tickCount":20,"format":"d","offset":6.7,"title":"Vmₚᵣₑ (mV)","titlePadding":6}}}},
{"data":{"values":[{"x":1.7,"y":48.7},{"x":2.0,"y":55.5},{"x":2.3,"y":58.5},{"x":2.6,"y":59.2},{"x":3.0,"y":58.9},{"x":3.5,"y":58.1},{"x":4.0,"y":57.4},{"x":4.5,"y":56.7},{"x":5.0,"y":56.2},{"x":6.0,"y":55.3},{"x":7.0,"y":54.6},{"x":8.0,"y":54.1},{"x":9.0,"y":53.5},{"x":10.0,"y":52.9},{"x":11.0,"y":52.3},{"x":12.0,"y":51.7},{"x":13.0,"y":51.3},{"x":14.0,"y":50.8},{"x":14.7,"y":50.2},{"x":15.5,"y":49.6},{"x":16.5,"y":49.0},{"x":17.3,"y":48.2},{"x":17.8,"y":47.7}]},"mark":{"type":"line","color":"red","strokeWidth":1.2},"encoding":{"x":{"field":"x","type":"quantitative"},"y":{"field":"y","type":"quantitative"}}}
]}
],"spacing":72,"bounds":"flush"},
{"hconcat":[
{"width":225.7,"height":152.4,
"resolve":{"scale":{"x":"independent","y":"independent"},"axis":{"x":"independent","y":"independent"}},
"layer":[
{"layer":[
{"data":{"values":[{"x":2,"y":0.98},{"x":3,"y":0.89},{"x":4,"y":0.82},{"x":5,"y":0.75},{"x":6,"y":0.69},{"x":8,"y":0.58},{"x":10,"y":0.5},{"x":12,"y":0.43},{"x":15,"y":0.35},{"x":18,"y":0.29},{"x":20,"y":0.25},{"x":25,"y":0.21},{"x":30,"y":0.18},{"x":35,"y":0.165},{"x":40,"y":0.155},{"x":50,"y":0.145},{"x":60,"y":0.142},{"x":80,"y":0.14},{"x":120,"y":0.14},{"x":200,"y":0.14}]},"mark":{"type":"line","color":"red","strokeWidth":1.2},
"encoding":{"x":{"field":"x","type":"quantitative","scale":{"domain":[0,200],"nice":false,"zero":false},"axis":{"values":[0,50,100,150,200],"tickCount":20,"format":"d","offset":3.3,"title":"Recovery interval (ms)","titleFontSize":14,"titlePadding":1,"labelPadding":1}},"y":{"field":"y","type":"quantitative","scale":{"domain":[0,1],"nice":false,"zero":false},"axis":{"values":[0,0.2,0.4,0.6,0.8,1],"tickCount":20,"format":"~g","offset":10.6,"title":"R² (Vmₚᵣₑ, Vmₚₒₛₜ)","titleFontSize":14,"titlePadding":6}}}},
{"data":{"values":[{"x":2,"y":0.967,"lo":0,"hi":1.0},{"x":4,"y":0.86,"lo":0.81,"hi":0.909},{"x":6,"y":0.777,"lo":0.645,"hi":0.885},{"x":8,"y":0.777,"lo":0.689,"hi":0.853},{"x":12,"y":0.737,"lo":0.613,"hi":0.842},{"x":16,"y":0.69,"lo":0.57,"hi":0.81},{"x":24,"y":0.372,"lo":0.21,"hi":0.54},{"x":32,"y":0.169,"lo":0.04,"hi":0.3},{"x":40,"y":0.203,"lo":0.09,"hi":0.31},{"x":80,"y":0.175,"lo":0.0,"hi":0.45},{"x":120,"y":0.066,"lo":0.03,"hi":0.1},{"x":160,"y":0.164,"lo":0.03,"hi":0.44},{"x":200,"y":0.116,"lo":0.0,"hi":0.31}]},
"layer":[
{"mark":{"type":"rule","color":"#333","strokeWidth":1.3},"encoding":{"x":{"field":"x","type":"quantitative"},"y":{"field":"lo","type":"quantitative"},"y2":{"field":"hi"}}},
{"mark":{"type":"point","filled":true,"color":"black","size":40,"opacity":1},"encoding":{"x":{"field":"x","type":"quantitative"},"y":{"field":"y","type":"quantitative"}}}
]}
]},
{"layer":[
{"data":{"values":[{"s":"2 ms","x":-61.5,"y":-60.0},{"s":"2 ms","x":-49.7,"y":-45.5},{"s":"120 ms","x":-61.5,"y":-52.6},{"s":"120 ms","x":-49.7,"y":-52.6}]},"mark":{"type":"line","color":"black","strokeWidth":1},
"encoding":{"detail":{"field":"s"},"x":{"field":"x","type":"quantitative","title":"Vmₚₒₛₜ","scale":{"domain":[-61,-49],"range":[88.7,225],"nice":false,"zero":false},"axis":{"orient":"bottom","offset":-70.7,"values":[-60,-58,-56,-54,-52,-50],"tickCount":20,"format":"d","titleFontSize":11,"labelFontSize":9.5,"tickSize":4,"titlePadding":1}},"y":{"field":"y","type":"quantitative","title":"Vmₚᵣₑ","scale":{"domain":[-62.5,-43.5],"range":[67.6,2.2],"nice":false,"zero":false},"axis":{"orient":"left","offset":-88.7,"values":[-45,-50,-55,-60],"tickCount":20,"format":"d","titleFontSize":11,"labelFontSize":9.5,"tickSize":4,"titlePadding":3}}}},
{"data":{"values":[{"x":-60.3,"y":-50.2},{"x":-60.1,"y":-51.0},{"x":-59.9,"y":-52.5},{"x":-59.7,"y":-53.2},{"x":-60.0,"y":-54.5},{"x":-59.5,"y":-55.8},{"x":-59.6,"y":-50.8},{"x":-59.3,"y":-52.0},{"x":-59.1,"y":-53.5},{"x":-58.9,"y":-54.2},{"x":-58.7,"y":-51.5},{"x":-58.5,"y":-55.2},{"x":-58.3,"y":-52.8},{"x":-58.1,"y":-53.9},{"x":-58.9,"y":-59.0},{"x":-59.3,"y":-58.7},{"x":-58.2,"y":-58.4},{"x":-57.9,"y":-47.8},{"x":-58.6,"y":-49.2},{"x":-57.7,"y":-50.6},{"x":-57.5,"y":-52.3},{"x":-57.3,"y":-53.3},{"x":-57.1,"y":-51.2},{"x":-56.9,"y":-54.8},{"x":-56.7,"y":-55.6},{"x":-56.5,"y":-49.8},{"x":-56.3,"y":-48.9},{"x":-56.1,"y":-52.5},{"x":-55.9,"y":-50.9},{"x":-55.7,"y":-47.5},{"x":-55.5,"y":-47.8},{"x":-55.3,"y":-49.3},{"x":-55.2,"y":-51.0},{"x":-56.6,"y":-56.8},{"x":-54.9,"y":-55.8},{"x":-54.7,"y":-56.5},{"x":-54.5,"y":-54.0},{"x":-54.3,"y":-55.4},{"x":-54.1,"y":-56.0},{"x":-53.9,"y":-48.4},{"x":-53.7,"y":-52.4},{"x":-53.5,"y":-53.8},{"x":-53.3,"y":-49.6},{"x":-53.1,"y":-48.1},{"x":-52.9,"y":-52.8},{"x":-52.7,"y":-54.2},{"x":-52.5,"y":-51.5},{"x":-52.2,"y":-57.2},{"x":-51.9,"y":-53.0},{"x":-51.5,"y":-52.1},{"x":-50.8,"y":-50.4},{"x":-50.5,"y":-56.6},{"x":-57.6,"y":-57.9},{"x":-58.4,"y":-56.3},{"x":-59.8,"y":-56.5},{"x":-57.0,"y":-47.4},{"x":-56.0,"y":-57.1},{"x":-55.0,"y":-50.3},{"x":-54.2,"y":-49.0},{"x":-53.0,"y":-55.6}]},
"mark":{"type":"point","shape":"circle","size":12,"filled":false,"stroke":"black","strokeWidth":0.8,"opacity":1},"encoding":{"x":{"field":"x","type":"quantitative"},"y":{"field":"y","type":"quantitative"}}},
{"data":{"values":[{"x":-61.5,"y":-61.8},{"x":-61.2,"y":-59.6},{"x":-60.5,"y":-58.2},{"x":-59.8,"y":-57.5},{"x":-59.5,"y":-57.0},{"x":-59.0,"y":-56.8},{"x":-58.8,"y":-56.0},{"x":-58.5,"y":-56.4},{"x":-58.2,"y":-55.5},{"x":-58.0,"y":-55.9},{"x":-57.8,"y":-55.2},{"x":-57.5,"y":-55.0},{"x":-57.3,"y":-55.6},{"x":-57.0,"y":-54.5},{"x":-56.8,"y":-54.0},{"x":-56.5,"y":-54.4},{"x":-56.3,"y":-53.6},{"x":-56.0,"y":-53.9},{"x":-55.8,"y":-53.2},{"x":-55.6,"y":-52.8},{"x":-55.4,"y":-53.0},{"x":-55.2,"y":-52.4},{"x":-55.0,"y":-52.0},{"x":-54.8,"y":-52.3},{"x":-54.6,"y":-51.8},{"x":-54.4,"y":-51.5},{"x":-54.2,"y":-51.9},{"x":-54.0,"y":-51.2},{"x":-53.8,"y":-50.8},{"x":-53.6,"y":-51.0},{"x":-53.4,"y":-50.5},{"x":-53.2,"y":-50.2},{"x":-53.0,"y":-50.4},{"x":-52.8,"y":-49.6},{"x":-52.6,"y":-49.2},{"x":-52.5,"y":-48.7},{"x":-52.4,"y":-48.3},{"x":-52.8,"y":-48.8},{"x":-52.6,"y":-47.9},{"x":-52.3,"y":-49.0},{"x":-51.5,"y":-48.5},{"x":-51.0,"y":-47.5},{"x":-50.6,"y":-46.8},{"x":-50.2,"y":-46.4},{"x":-49.8,"y":-46.0},{"x":-57.2,"y":-56.2},{"x":-58.4,"y":-57.0},{"x":-55.7,"y":-52.0},{"x":-54.5,"y":-52.6},{"x":-53.9,"y":-50.2}]},
"mark":{"type":"point","shape":"circle","size":10,"filled":true,"color":"black","opacity":1},"encoding":{"x":{"field":"x","type":"quantitative"},"y":{"field":"y","type":"quantitative"}}},
{"data":{"values":[{"x":-51.0,"y":-46.7,"label":"2 ms"},{"x":-51.0,"y":-55.0,"label":"120 ms"}]},"mark":{"type":"text","fontSize":9.5,"align":"center","baseline":"middle"},"encoding":{"x":{"field":"x","type":"quantitative"},"y":{"field":"y","type":"quantitative"},"text":{"field":"label"}}}
]}
]},
{"width":282.5,"height":152.4,
"encoding":{"x":{"field":"t","type":"quantitative","scale":{"domain":[-7.58,74.79],"nice":false,"zero":false},"axis":null},"y":{"field":"v","type":"quantitative","scale":{"domain":[-149.55,79.05],"nice":false,"zero":false},"axis":null}},
"layer":[
{"data":{"values":[
{"s":"u0","t":10.69,"v":-41},{"s":"u0","t":15.94,"v":-39.5},{"s":"u0","t":16.33,"v":45.5},{"s":"u0","t":16.81,"v":-49.5},{"s":"u0","t":17.69,"v":-54.5},{"s":"u0","t":49.08,"v":-48},
{"s":"u1","t":10.69,"v":-42},{"s":"u1","t":26.63,"v":-41},{"s":"u1","t":27.02,"v":45.5},{"s":"u1","t":27.51,"v":-49.5},{"s":"u1","t":28.38,"v":-53},{"s":"u1","t":49.08,"v":-49.5},
{"s":"u2","t":10.69,"v":-43},{"s":"u2","t":31.2,"v":-41},{"s":"u2","t":31.59,"v":45.5},{"s":"u2","t":32.07,"v":-49.5},{"s":"u2","t":32.94,"v":-53},{"s":"u2","t":49.08,"v":-51},
{"s":"u3","t":10.69,"v":-43.5},{"s":"u3","t":36.06,"v":-41},{"s":"u3","t":36.45,"v":45.5},{"s":"u3","t":36.93,"v":-49.5},{"s":"u3","t":37.81,"v":-53},{"s":"u3","t":49.08,"v":-52},
{"s":"u4","t":10.69,"v":-44.5},{"s":"u4","t":41.21,"v":-41},{"s":"u4","t":41.6,"v":45.5},{"s":"u4","t":42.09,"v":-49.5},{"s":"u4","t":42.96,"v":-53},{"s":"u4","t":49.08,"v":-53.5},
{"s":"d0","t":0,"v":-159.5},{"s":"d0","t":2.14,"v":-159.5},{"s":"d0","t":2.72,"v":-107},{"s":"d0","t":3.11,"v":-67},{"s":"d0","t":3.59,"v":-107},{"s":"d0","t":4.37,"v":-167},{"s":"d0","t":5.34,"v":-168},{"s":"d0","t":20.41,"v":-164.5},{"s":"d0","t":35.38,"v":-157},{"s":"d0","t":36.16,"v":-69.5},{"s":"d0","t":36.93,"v":-167},{"s":"d0","t":49.08,"v":-166},
{"s":"d1","t":0,"v":-159.5},{"s":"d1","t":2.14,"v":-159.5},{"s":"d1","t":2.72,"v":-107},{"s":"d1","t":3.11,"v":-67},{"s":"d1","t":3.59,"v":-107},{"s":"d1","t":4.37,"v":-167},{"s":"d1","t":5.34,"v":-168},{"s":"d1","t":20.41,"v":-164.5},{"s":"d1","t":37.42,"v":-157},{"s":"d1","t":38.2,"v":-69.5},{"s":"d1","t":38.98,"v":-167},{"s":"d1","t":49.08,"v":-167},
{"s":"d2","t":0,"v":-159.5},{"s":"d2","t":2.14,"v":-159.5},{"s":"d2","t":2.72,"v":-107},{"s":"d2","t":3.11,"v":-67},{"s":"d2","t":3.59,"v":-107},{"s":"d2","t":4.37,"v":-167},{"s":"d2","t":5.34,"v":-168},{"s":"d2","t":20.41,"v":-164.5},{"s":"d2","t":38.1,"v":-157},{"s":"d2","t":38.88,"v":-69.5},{"s":"d2","t":39.66,"v":-167},{"s":"d2","t":49.08,"v":-168},
{"s":"d3","t":0,"v":-159.5},{"s":"d3","t":2.14,"v":-159.5},{"s":"d3","t":2.72,"v":-107},{"s":"d3","t":3.11,"v":-67},{"s":"d3","t":3.59,"v":-107},{"s":"d3","t":4.37,"v":-167},{"s":"d3","t":5.34,"v":-168},{"s":"d3","t":20.41,"v":-164.5},{"s":"d3","t":41.21,"v":-157},{"s":"d3","t":41.99,"v":-69.5},{"s":"d3","t":42.77,"v":-167},{"s":"d3","t":49.08,"v":-166.5},
{"s":"d4","t":0,"v":-159.5},{"s":"d4","t":2.14,"v":-159.5},{"s":"d4","t":2.72,"v":-107},{"s":"d4","t":3.11,"v":-67},{"s":"d4","t":3.59,"v":-107},{"s":"d4","t":4.37,"v":-167},{"s":"d4","t":5.34,"v":-168},{"s":"d4","t":20.41,"v":-164.5},{"s":"d4","t":44.9,"v":-157},{"s":"d4","t":45.68,"v":-69.5},{"s":"d4","t":46.46,"v":-167},{"s":"d4","t":49.08,"v":-167.5}]},"mark":{"type":"line","color":"black","strokeWidth":1.1},"encoding":{"detail":{"field":"s"}}},
{"data":{"values":[{"t":0,"v":-186,"t2":49.08,"v2":-186},{"t":9.23,"v":57,"t2":20.22,"v2":57},{"t":9.23,"v":57,"t2":9.23,"v2":30.5}]},"mark":{"type":"rule","color":"black"},"encoding":{"x2":{"field":"t2"},"y2":{"field":"v2"}}},
{"data":{"values":[{"t":2.72,"v":-176,"t2":4.37,"v2":-186}]},"mark":{"type":"rect","color":"black"},"encoding":{"x2":{"field":"t2"},"y2":{"field":"v2"}}},
{"data":{"values":[{"t":8.5,"v":-42,"label":"-42 mV"},{"t":8.3,"v":44,"label":"20 mV"}]},"mark":{"type":"text","fontSize":10,"align":"right","baseline":"middle"},"encoding":{"text":{"field":"label"}}},
{"data":{"values":[{"t":15.06,"v":68,"label":"10 ms"},{"t":3.11,"v":-197,"label":"pAP"}]},"mark":{"type":"text","fontSize":10,"align":"center","baseline":"middle"},"encoding":{"text":{"field":"label"}}},
{"data":{"values":[{"t":-5.83,"v":104.9,"label":"D1"},{"t":60.6,"v":104.9,"label":"D2"}]},"mark":{"type":"text","fontSize":19,"align":"left","baseline":"middle"},"encoding":{"text":{"field":"label"}}}
]},
{"width":208.5,"height":153,
"data":{"values":[{"group":"control","type":"MC","value":1.0,"top":1.0745},{"group":"control","type":"Pyrm","value":1.0,"top":1.167},{"group":"control","type":"Purk","value":1.0,"top":1.127},{"group":"reset","type":"MC","value":0.546,"top":0.6},{"group":"reset","type":"Pyrm","value":0.485,"top":0.7},{"group":"reset","type":"Purk","value":0.496,"top":0.578}]},
"encoding":{"x":{"field":"group","type":"nominal","scale":{"domain":["control","reset"],"paddingInner":0.147,"paddingOuter":0},"axis":{"title":null,"domain":false,"ticks":false,"labelAngle":0,"labelFontSize":13.5,"labelPadding":22}},"xOffset":{"field":"type","type":"nominal","scale":{"domain":["MC","Pyrm","Purk"],"paddingInner":0.12,"paddingOuter":0.06}}},
"layer":[
{"mark":{"type":"rule","color":"black","strokeWidth":1},"encoding":{"y":{"field":"value","type":"quantitative","scale":{"domain":[0.4,1.2],"nice":false,"zero":false},"axis":{"values":[0.4,0.6,0.8,1.0,1.2],"tickCount":20,"format":".1f","offset":21.5,"title":"Normalized AP jitter","titleFontSize":12.5,"titlePadding":8}},"y2":{"field":"top"}}},
{"mark":{"type":"bar","stroke":"black","strokeWidth":1},"encoding":{"y":{"field":"value","type":"quantitative"},"y2":{"datum":0.4},"color":{"field":"type","type":"nominal","scale":{"domain":["MC","Pyrm","Purk"],"range":["black","white","#bdbdbd"]},"legend":null}}},
{"mark":{"type":"text","fontSize":9.5,"dy":14,"baseline":"middle"},"encoding":{"y":{"datum":0.4},"text":{"field":"type"}}}
]}
],"spacing":10,"bounds":"flush"}
],"spacing":250.3,"bounds":"flush"}
]
}
